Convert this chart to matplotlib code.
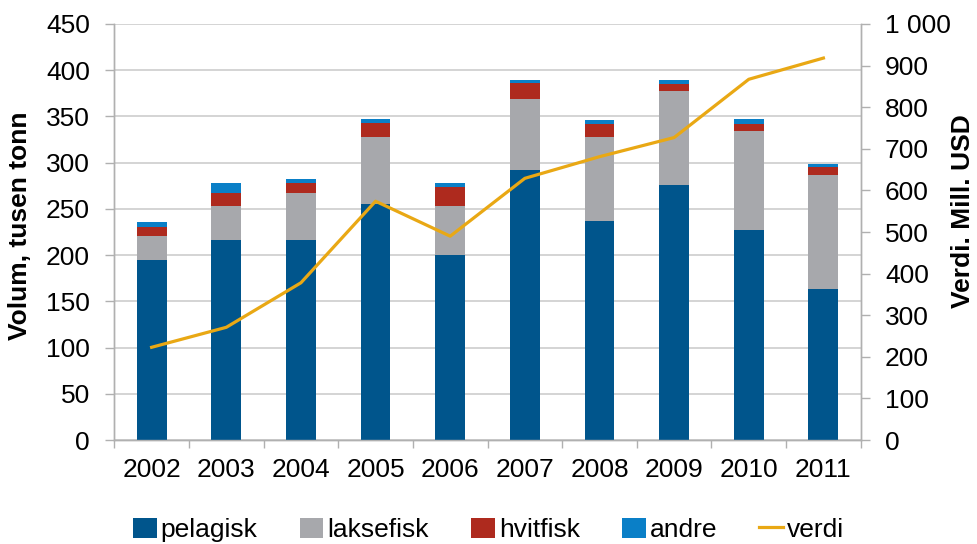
import matplotlib
matplotlib.use("Agg")
import matplotlib.pyplot as plt
from matplotlib.ticker import FuncFormatter, MultipleLocator

plt.rcParams['font.family'] = ['Liberation Sans', 'DejaVu Sans']

years = ['2002', '2003', '2004', '2005', '2006', '2007', '2008', '2009', '2010', '2011']
pelagisk = [195, 216, 216, 255, 200, 292, 237, 275.5, 227, 163]
laksefisk = [25.5, 37.5, 51, 73, 53.5, 77, 91, 102.5, 107.5, 123.5]
hvitfisk = [9.5, 14, 11.5, 15, 20.5, 17, 14, 7, 7.5, 8.5]
andre = [6, 10.5, 4, 4, 3.5, 3.5, 4, 4, 5.5, 4]
verdi = [223, 271, 378, 574, 490, 629, 681, 727, 867, 918]

farger = {'pelagisk': '#00558C', 'laksefisk': '#A7A8AC', 'hvitfisk': '#AE2A1E',
          'andre': '#0A7FC7', 'verdi': '#E9A814'}

fig = plt.figure(figsize=(9.77, 5.44), dpi=100)
ax = fig.add_axes([0.117, 0.191, 0.764, 0.765])
ax2 = ax.twinx()

x = list(range(len(years)))
bunn = [0] * len(years)
for navn, verdier in [('pelagisk', pelagisk), ('laksefisk', laksefisk),
                      ('hvitfisk', hvitfisk), ('andre', andre)]:
    ax.bar(x, verdier, width=0.4, bottom=bunn, color=farger[navn], label=navn, zorder=3)
    bunn = [b + v for b, v in zip(bunn, verdier)]

ax2.plot(x, verdi, color=farger['verdi'], lw=2.3, label='verdi', zorder=4)

ax.set_xlim(-0.5, 9.5)
ax.set_ylim(0, 450)
ax.yaxis.set_major_locator(MultipleLocator(50))
ax2.set_ylim(0, 1000)
ax2.yaxis.set_major_locator(MultipleLocator(100))
ax2.yaxis.set_major_formatter(FuncFormatter(lambda v, p: f"{int(v):,}".replace(',', ' ')))

ax.set_xticks(x)
ax.set_xticklabels(years)
ax.set_xticks([i + 0.5 for i in range(-1, 10)], minor=True)
ax.tick_params(axis='x', which='major', length=0, pad=13, labelsize=19)
ax.tick_params(axis='x', which='minor', length=6, width=1, color='#B0B0B0')
ax.tick_params(axis='y', length=6.5, width=1, color='#B0B0B0', pad=11, labelsize=19)
ax2.tick_params(axis='y', length=6.5, width=1, color='#B0B0B0', pad=11, labelsize=19)

ax.grid(axis='y', color='#CDCDCD', lw=1.2, zorder=0)
ax.set_axisbelow(True)
for a in (ax, ax2):
    for s in a.spines.values():
        s.set_color('#B0B0B0')
        s.set_linewidth(1)
    a.spines['top'].set_visible(False)

# aksetitler plassert direkte i figuren
fig.text(0.0205, 0.585, 'Volum, tusen tonn', rotation=90, ha='center', va='center',
         fontsize=19, fontweight='bold')
fig.text(0.9857, 0.612, 'Verdi. Mill. USD', rotation=90, ha='center', va='center',
         fontsize=19, fontweight='bold')

h1, l1 = ax.get_legend_handles_labels()
h2, l2 = ax2.get_legend_handles_labels()
fig.legend(h1 + h2, l1 + l2, loc='lower center', bbox_to_anchor=(0.5, -0.04), ncol=5,
           frameon=False, fontsize=19, handlelength=0.9, handleheight=0.8,
           handletextpad=0.15, columnspacing=1.6)

fig.savefig('out.png', dpi=100)
